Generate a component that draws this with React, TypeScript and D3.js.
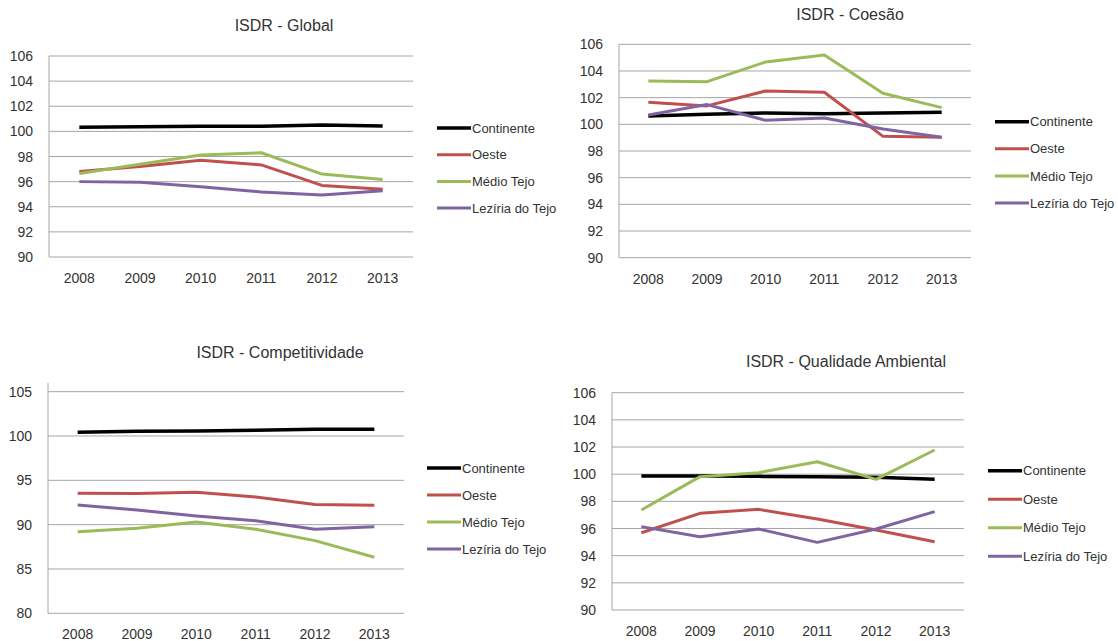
import * as d3 from 'd3';

const years = ['2008', '2009', '2010', '2011', '2012', '2013'];
const seriesNames = ['Continente', 'Oeste', 'Médio Tejo', 'Lezíria do Tejo'];
const seriesColors = ['#000000', '#C0504D', '#9BBB59', '#8064A2'];

// ISDR - Global
const globalContinente = [100.32, 100.37, 100.4, 100.4, 100.5, 100.43];
const globalOeste = [96.8, 97.2, 97.7, 97.33, 95.7, 95.4];
const globalMedio = [96.64, 97.38, 98.12, 98.3, 96.6, 96.16];
const globalLeziria = [96.0, 95.95, 95.6, 95.18, 94.94, 95.28];

// ISDR - Coesão
const coesaoContinente = [100.63, 100.75, 100.85, 100.8, 100.85, 100.9];
const coesaoOeste = [101.65, 101.38, 102.5, 102.4, 99.1, 99.03];
const coesaoMedio = [103.25, 103.2, 104.68, 105.2, 102.33, 101.25];
const coesaoLeziria = [100.7, 101.48, 100.3, 100.48, 99.65, 99.03];

// ISDR - Competitividade
const compContinente = [100.41, 100.53, 100.56, 100.64, 100.75, 100.75];
const compOeste = [93.53, 93.5, 93.65, 93.12, 92.26, 92.18];
const compMedio = [89.21, 89.59, 90.3, 89.47, 88.2, 86.32];
const compLeziria = [92.22, 91.65, 90.98, 90.45, 89.47, 89.77];

// ISDR - Qualidade Ambiental
const ambContinente = [99.87, 99.87, 99.84, 99.82, 99.77, 99.62];
const ambOeste = [95.69, 97.12, 97.41, 96.7, 95.89, 95.03];
const ambMedio = [97.36, 99.82, 100.11, 100.92, 99.62, 101.78];
const ambLeziria = [96.14, 95.4, 95.96, 94.98, 95.96, 97.24];

const ticksA = [90, 92, 94, 96, 98, 100, 102, 104, 106];
const ticksB = [80, 85, 90, 95, 100, 105];

const FONT = '"Liberation Sans", Arial, sans-serif';
const TEXT = '#333333';
const GRID = '#a6a6a6';

type PanelProps = {
  title: string;
  series: number[][];
  domain: [number, number];
  ticks: number[];
  left: number;
  right: number;
  top: number;
  bottom: number;
  titleX: number;
  titleY: number;
  legendX: number;
  legendY: number;
  legendStep: number;
};

const Panel = (p: PanelProps) => {
  const x = d3.scaleBand().domain(years).range([p.left, p.right]);
  const y = d3.scaleLinear().domain(p.domain).range([p.bottom, p.top]);
  const line = d3
    .line<number>()
    .x((_, i) => (x(years[i]) as number) + x.bandwidth() / 2)
    .y((d) => y(d));

  return (
    <g fontFamily={FONT} fill={TEXT}>
      <text x={p.titleX} y={p.titleY} textAnchor="middle" fontSize={16}>
        {p.title}
      </text>
      {p.ticks.map((t) => (
        <g key={t}>
          <line x1={p.left} x2={p.right} y1={y(t)} y2={y(t)} stroke={GRID} strokeWidth={1} />
          <text x={p.left - 16} y={y(t)} dy="0.36em" textAnchor="end" fontSize={14}>
            {t}
          </text>
        </g>
      ))}
      <line x1={p.left} x2={p.left} y1={p.top} y2={p.bottom} stroke={GRID} strokeWidth={1} />
      {years.map((yr) => (
        <text
          key={yr}
          x={(x(yr) as number) + x.bandwidth() / 2}
          y={p.bottom + 26}
          textAnchor="middle"
          fontSize={14}
        >
          {yr}
        </text>
      ))}
      {p.series.map((s, i) => (
        <path
          key={seriesNames[i]}
          d={line(s) || ''}
          fill="none"
          stroke={seriesColors[i]}
          strokeWidth={i === 0 ? 3.5 : 3}
          strokeLinejoin="round"
        />
      ))}
      {seriesNames.map((n, i) => {
        const ly = p.legendY + i * p.legendStep;
        return (
          <g key={n}>
            <line x1={p.legendX} x2={p.legendX + 34} y1={ly} y2={ly} stroke={seriesColors[i]} strokeWidth={i === 0 ? 3.5 : 3} />
            <text x={p.legendX + 35} y={ly} dy="0.36em" fontSize={13}>
              {n}
            </text>
          </g>
        );
      })}
    </g>
  );
};

export default function App() {
  return (
    <svg width={1118} height={641} style={{ position: 'absolute', left: 0, top: 0, background: '#fff' }}>
      <Panel
        title="ISDR - Global"
        series={[globalContinente, globalOeste, globalMedio, globalLeziria]}
        domain={[90, 106]}
        ticks={ticksA}
        left={49}
        right={413}
        top={56}
        bottom={257}
        titleX={284}
        titleY={31}
        legendX={437}
        legendY={128}
        legendStep={26.7}
      />
      <Panel
        title="ISDR - Coesão"
        series={[coesaoContinente, coesaoOeste, coesaoMedio, coesaoLeziria]}
        domain={[90, 106]}
        ticks={ticksA}
        left={619}
        right={971}
        top={44.3}
        bottom={257.7}
        titleX={850}
        titleY={20}
        legendX={995}
        legendY={121.7}
        legendStep={27.1}
      />
      <Panel
        title="ISDR - Competitividade"
        series={[compContinente, compOeste, compMedio, compLeziria]}
        domain={[80, 106]}
        ticks={ticksB}
        left={48}
        right={404}
        top={382.8}
        bottom={613.3}
        titleX={280}
        titleY={358}
        legendX={427}
        legendY={468}
        legendStep={27}
      />
      <Panel
        title="ISDR - Qualidade Ambiental"
        series={[ambContinente, ambOeste, ambMedio, ambLeziria]}
        domain={[90, 106]}
        ticks={ticksA}
        left={612}
        right={964}
        top={392.7}
        bottom={610}
        titleX={846}
        titleY={366.5}
        legendX={988}
        legendY={470.7}
        legendStep={28.5}
      />
    </svg>
  );
}
